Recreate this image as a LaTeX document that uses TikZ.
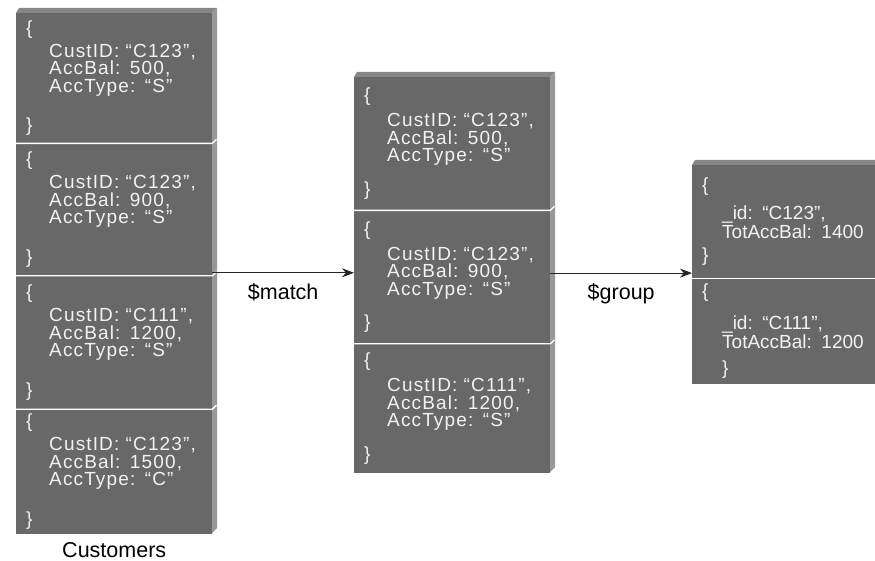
\documentclass[tikz,border=0pt]{standalone}
\usepackage{fontspec}
\setmainfont{Liberation Sans}
\newfontfamily\satzfont[LetterSpace=6]{Liberation Sans}
\usetikzlibrary{arrows.meta,positioning}
\definecolor{satzgrau}{RGB}{104,104,104}
\definecolor{kantegrau}{RGB}{152,152,152}
\definecolor{deckgrau}{RGB}{134,134,134}
\definecolor{schrift}{RGB}{242,242,242}
% obere und rechte Kante einer Saeule: x links, y oben, x rechts, y unten
\newcommand{\Kante}[4]{%
  \fill[deckgrau] (#1,#2+5) -- (#1+3,#2) -- (#3+5,#2) -- (#3,#2+5) -- cycle;
  \fill[kantegrau] (#3,#2+5) -- (#3+5,#2) -- (#3+5,#4-5) -- (#3,#4) -- cycle;}
\newcommand{\Zeile}[1]{\hspace*{23pt}#1}
\newcommand{\Zeilek}[1]{\hspace*{20pt}#1}

\begin{document}
\begin{tikzpicture}[x=1pt,y=-1pt,>={Stealth[length=12pt,width=9pt]},
  satz/.style={anchor=north west,fill=satzgrau,text=schrift,minimum width=196pt,
    inner xsep=10pt,inner ysep=0pt,text width=176pt,align=left,
    font=\satzfont\fontsize{19}{17.5}\selectfont},
  breit/.style={minimum width=200pt,text width=180pt,inner xsep=8pt,
    font=\fontsize{19}{17.5}\selectfont},
  trenner/.style={draw=white,line width=1.3pt},
  pfeil/.style={draw=black!85,line width=1.1pt,->},
  etikett/.style={font=\fontsize{21.5}{24}\selectfont,inner sep=2pt}]
  \clip (0,0) rectangle (875,561);
  % Customers
  \Kante{16}{8}{212}{533}
  \node[satz,minimum height=130pt] (cust1) at (16,13)
    {\{\\[5.5pt]\Zeile{CustID: “C123”,}\\\Zeile{AccBal: 500,}\\\Zeile{AccType: “S”}\\[21pt]\}};
  \node[satz,minimum height=132pt,below=0pt of cust1] (cust2)
    {\{\\[5.5pt]\Zeile{CustID: “C123”,}\\\Zeile{AccBal: 900,}\\\Zeile{AccType: “S”}\\[21pt]\}};
  \node[satz,minimum height=133pt,below=0pt of cust2] (cust3)
    {\{\\[5.5pt]\Zeile{CustID: “C111”,}\\\Zeile{AccBal: 1200,}\\\Zeile{AccType: “S”}\\[21pt]\}};
  \node[satz,minimum height=125pt,below=0pt of cust3] (cust4)
    {\{\\[5.5pt]\Zeile{CustID: “C123”,}\\\Zeile{AccBal: 1500,}\\\Zeile{AccType: “C”}\\[21pt]\}};
  \draw[trenner] (cust1.south west) -- (cust1.south east) -- ++(4,-4);
  \draw[trenner] (cust2.south west) -- (cust2.south east) -- ++(4,-4);
  \draw[trenner] (cust3.south west) -- (cust3.south east) -- ++(4,-4);
  \node[etikett,below=6pt of cust4] (custname) {Customers};
  % nach $match
  \Kante{354}{72}{550}{472}
  \node[satz,minimum height=133pt] (match1) at (354,77)
    {\{\\[7.5pt]\Zeile{CustID: “C123”,}\\\Zeile{AccBal: 500,}\\\Zeile{AccType: “S”}\\[15pt]\}};
  \node[satz,minimum height=133pt,below=0pt of match1] (match2)
    {\{\\[7.5pt]\Zeile{CustID: “C123”,}\\\Zeile{AccBal: 900,}\\\Zeile{AccType: “S”}\\[15pt]\}};
  \node[satz,minimum height=129pt,below=0pt of match2] (match3)
    {\{\\[7.5pt]\Zeile{CustID: “C111”,}\\\Zeile{AccBal: 1200,}\\\Zeile{AccType: “S”}\\[15pt]\}};
  \draw[trenner] (match1.south west) -- (match1.south east) -- ++(4,-4);
  \draw[trenner] (match2.south west) -- (match2.south east) -- ++(4,-4);
  % nach $group
  \Kante{692}{160}{892}{383}
  \node[satz,breit,minimum height=113pt] (grp1) at (692,165)
    {\{\\[10pt]\Zeilek{\_id: “C123”,}\\\Zeilek{TotAccBal: 1400}\\[6pt]\}};
  \node[satz,breit,minimum height=105pt,below=0pt of grp1] (grp2)
    {\{\\[14pt]\Zeilek{\_id: “C111”,}\\\Zeilek{TotAccBal: 1200}\\[9pt]\Zeilek{\}}};
  \draw[trenner] (grp1.south west) -- (grp1.south east);
  % Pfeile
  \coordinate (abzw1) at ([yshift=3pt]cust2.south east);
  \coordinate (abzw2) at ([yshift=4pt]match2.east);
  \draw[pfeil] (abzw1) -- node[etikett,below=8pt] (lblmatch) {\$match} (abzw1 -| match2.west);
  \draw[pfeil] (abzw2) -- node[etikett,below=8pt] (lblgroup) {\$group} (abzw2 -| grp1.west);
\end{tikzpicture}
\end{document}
